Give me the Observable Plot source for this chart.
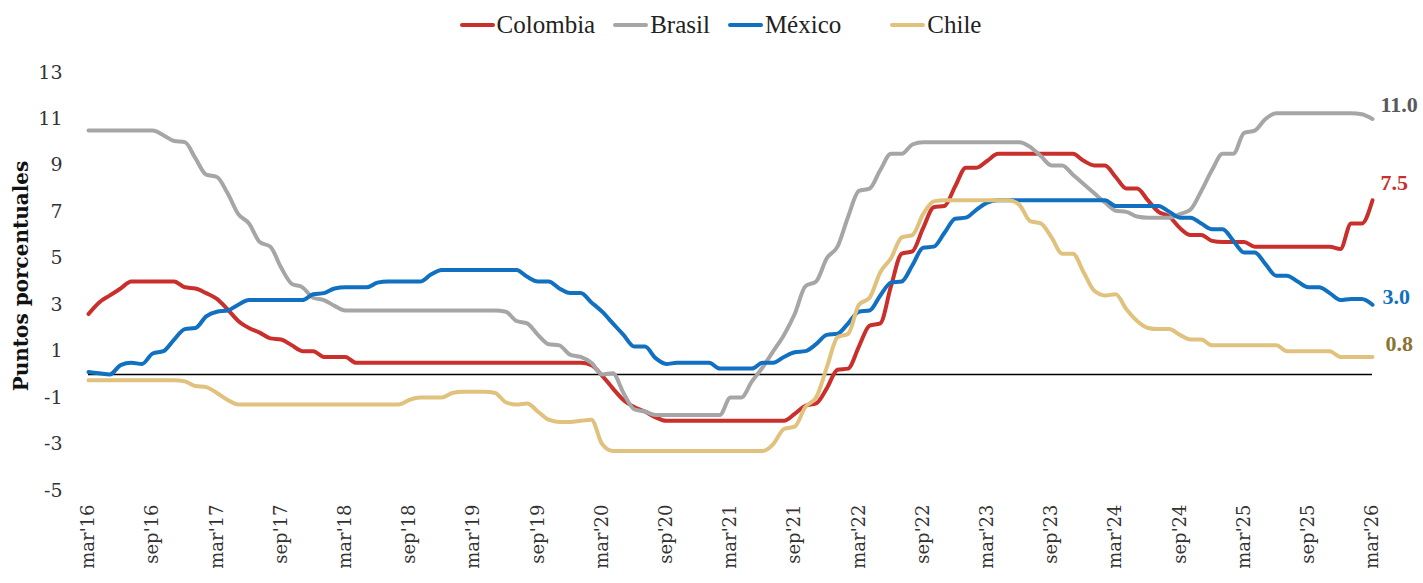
<!DOCTYPE html>
<html>
<head>
<meta charset="utf-8">
<script src="https://cdn.jsdelivr.net/npm/d3@7"></script>
<script src="https://cdn.jsdelivr.net/npm/@observablehq/plot@0.6"></script>
<style>
  html, body { margin: 0; padding: 0; background: #fff; }
  #legend { height: 50px; display: flex; justify-content: center; align-items: center;
            font-family: "Liberation Serif", "Times New Roman", serif; font-size: 25px; color: #222; padding-left: 18px; }
  .item { display: flex; align-items: center; margin: 0 9px; }
  .sw { width: 35px; height: 4px; border-radius: 2px; margin-right: 2px; }
</style>
</head>
<body>
<div id="legend"></div>
<div id="chart"></div>
<script>
// ---- Data (monthly, mar'16 .. mar'26) ----
const seriesNames = ["Colombia", "Brasil", "México", "Chile"];
const seriesColors = ["#C9302C", "#A6A6A6", "#1170C0", "#E0C27E"];
const labelColors = ["#C9302C", "#595959", "#1170C0", "#8B7332"];

const xTickLabels = ["mar'16","sep'16","mar'17","sep'17","mar'18","sep'18","mar'19","sep'19",
  "mar'20","sep'20","mar'21","sep'21","mar'22","sep'22","mar'23","sep'23","mar'24","sep'24",
  "mar'25","sep'25","mar'26"];
const yTicks = [-5, -3, -1, 1, 3, 5, 7, 9, 11, 13];

const colombia = [
  2.6,3.1,3.4,3.7,4.0,4.0,4.0,4.0,4.0,3.75,
  3.7,3.5,3.25,2.8,2.3,2.0,1.8,1.55,1.5,1.25,
  1.0,1.0,0.75,0.75,0.75,0.5,0.5,0.5,0.5,0.5,
  0.5,0.5,0.5,0.5,0.5,0.5,0.5,0.5,0.5,0.5,
  0.5,0.5,0.5,0.5,0.5,0.5,0.5,0.4,-0.05,-0.6,
  -1.1,-1.4,-1.6,-1.85,-2.0,-2.0,-2.0,-2.0,-2.0,-2.0,
  -2.0,-2.0,-2.0,-2.0,-2.0,-2.0,-1.7,-1.35,-1.25,-0.6,
  0.2,0.25,1.2,2.1,2.2,3.8,5.2,5.3,6.3,7.2,
  7.25,8.1,8.9,8.9,9.2,9.5,9.5,9.5,9.5,9.5,
  9.5,9.5,9.5,9.2,9.0,9.0,8.5,8.0,8.0,7.5,
  7.0,6.8,6.3,6.0,6.0,5.75,5.7,5.7,5.7,5.5,
  5.5,5.5,5.5,5.5,5.5,5.5,5.5,5.4,6.5,6.5,
  7.5];
const brasil = [
  10.5,10.5,10.5,10.5,10.5,10.5,10.5,10.3,10.05,10.0,
  9.3,8.6,8.5,7.8,6.9,6.5,5.7,5.5,4.6,3.9,
  3.75,3.3,3.2,2.95,2.75,2.75,2.75,2.75,2.75,2.75,
  2.75,2.75,2.75,2.75,2.75,2.75,2.75,2.75,2.75,2.7,
  2.3,2.2,1.7,1.3,1.25,0.85,0.75,0.5,0.0,0.05,
  -0.8,-1.5,-1.6,-1.75,-1.75,-1.75,-1.75,-1.75,-1.75,-1.75,
  -1.0,-1.0,-0.3,0.3,1.0,1.7,2.6,3.8,4.0,5.0,
  5.5,6.8,7.9,8.0,8.8,9.5,9.5,9.9,10.0,10.0,
  10.0,10.0,10.0,10.0,10.0,10.0,10.0,10.0,9.8,9.4,
  9.0,9.0,8.6,8.2,7.8,7.4,7.05,7.0,6.8,6.75,
  6.75,6.75,6.9,7.1,7.9,8.8,9.5,9.5,10.4,10.5,
  11.0,11.25,11.25,11.25,11.25,11.25,11.25,11.25,11.25,11.2,
  11.0];
const mexico = [
  0.1,0.05,0.0,0.4,0.5,0.45,0.9,1.0,1.5,1.95,
  2.0,2.5,2.7,2.75,3.0,3.2,3.2,3.2,3.2,3.2,
  3.2,3.45,3.5,3.7,3.75,3.75,3.75,3.95,4.0,4.0,
  4.0,4.0,4.3,4.5,4.5,4.5,4.5,4.5,4.5,4.5,
  4.5,4.2,4.0,4.0,3.7,3.5,3.5,3.1,2.7,2.2,
  1.7,1.2,1.2,0.7,0.45,0.5,0.5,0.5,0.5,0.25,
  0.25,0.25,0.25,0.5,0.5,0.75,0.95,1.0,1.3,1.7,
  1.75,2.2,2.7,2.75,3.4,3.95,4.0,4.7,5.45,5.5,
  6.1,6.7,6.75,7.1,7.4,7.5,7.5,7.5,7.5,7.5,
  7.5,7.5,7.5,7.5,7.5,7.5,7.25,7.25,7.25,7.25,
  7.25,7.0,6.75,6.75,6.5,6.25,6.25,5.75,5.25,5.25,
  4.75,4.25,4.25,4.0,3.75,3.75,3.5,3.2,3.25,3.25,
  3.0];
const chile = [
  -0.25,-0.25,-0.25,-0.25,-0.25,-0.25,-0.25,-0.25,-0.25,-0.3,
  -0.5,-0.55,-0.8,-1.1,-1.3,-1.3,-1.3,-1.3,-1.3,-1.3,
  -1.3,-1.3,-1.3,-1.3,-1.3,-1.3,-1.3,-1.3,-1.3,-1.3,
  -1.1,-1.0,-1.0,-1.0,-0.8,-0.75,-0.75,-0.75,-0.8,-1.2,
  -1.3,-1.25,-1.6,-1.95,-2.05,-2.05,-2.0,-1.95,-3.0,-3.3,
  -3.3,-3.3,-3.3,-3.3,-3.3,-3.3,-3.3,-3.3,-3.3,-3.3,
  -3.3,-3.3,-3.3,-3.3,-3.0,-2.35,-2.25,-1.4,-1.0,0.3,
  1.6,1.75,3.0,3.3,4.4,5.0,5.9,6.0,6.9,7.45,
  7.5,7.5,7.5,7.5,7.5,7.5,7.5,7.3,6.6,6.5,
  5.9,5.2,5.2,4.4,3.6,3.4,3.45,2.8,2.3,2.0,
  1.95,1.95,1.7,1.5,1.5,1.25,1.25,1.25,1.25,1.25,
  1.25,1.25,1.0,1.0,1.0,1.0,1.0,0.75,0.75,0.75,
  0.75];

const seriesValues = [colombia, brasil, mexico, chile];
const months = d3.range(colombia.length);           // month index from mar'16
const tickMonths = xTickLabels.map((_, i) => i * 6);

// ---- Legend ----
const legend = d3.select("#legend");
seriesNames.forEach((name, i) => {
  const it = legend.append("div").attr("class", "item")
    .style("margin-left", i === 3 ? "40px" : null);
  it.append("div").attr("class", "sw").style("background", seriesColors[i]);
  it.append("span").text(name);
});

// ---- Chart ----
const rows = seriesNames.flatMap((name, si) =>
  seriesValues[si].map((v, i) => ({ m: months[i], v, s: name })));
const colorOf = Object.fromEntries(seriesNames.map((n, i) => [n, seriesColors[i]]));

const labelStyle = [
  { dx: 8, dy: -17 },   // Colombia
  { dx: 8, dy: -14 },   // Brasil
  { dx: 10, dy: -8 },   // México
  { dx: 13, dy: -13 }   // Chile
];

const endLabels = seriesNames.map((name, si) => {
  const vals = seriesValues[si];
  const last = { m: months[vals.length - 1], v: vals[vals.length - 1] };
  return Plot.text([last], {
    x: "m", y: "v", text: d => d.v.toFixed(1),
    textAnchor: "start", dx: labelStyle[si].dx, dy: labelStyle[si].dy,
    fill: labelColors[si], fontSize: 22, fontWeight: "bold",
    fontFamily: "Liberation Serif"
  });
});

const chart = Plot.plot({
  width: 1423,
  height: 533,
  marginLeft: 88,
  marginRight: 51,
  marginTop: 22,
  marginBottom: 93,
  style: { fontFamily: "DejaVu Serif", fontSize: "18px", color: "#333", background: "#fff" },
  x: { domain: [0, 120] },
  y: { domain: [-5, 13] },
  marks: [
    Plot.axisY({ ticks: yTicks, tickSize: 0, tickPadding: 26, label: null, fontSize: 19,
      tickFormat: d => String(d) }),
    Plot.axisX({ ticks: tickMonths, tickSize: 0, tickPadding: 14, tickRotate: -90, label: null,
      tickFormat: d => xTickLabels[d / 6], fontSize: 18 }),
    Plot.ruleY([0], { stroke: "#000", strokeWidth: 1.5 }),
    Plot.lineY(rows, { x: "m", y: "v", z: "s", stroke: d => colorOf[d.s], strokeWidth: 4,
      curve: "monotone-x", strokeLinejoin: "round", strokeLinecap: "round" }),
    ...endLabels
  ]
});

d3.select(chart).append("text")
  .attr("transform", "translate(21,226) rotate(-90)")
  .attr("text-anchor", "middle")
  .attr("dominant-baseline", "central")
  .attr("font-family", "DejaVu Serif")
  .attr("font-weight", "bold")
  .attr("font-size", 20)
  .attr("fill", "#111")
  .text("Puntos porcentuales");

document.getElementById("chart").appendChild(chart);
</script>
</body>
</html>
